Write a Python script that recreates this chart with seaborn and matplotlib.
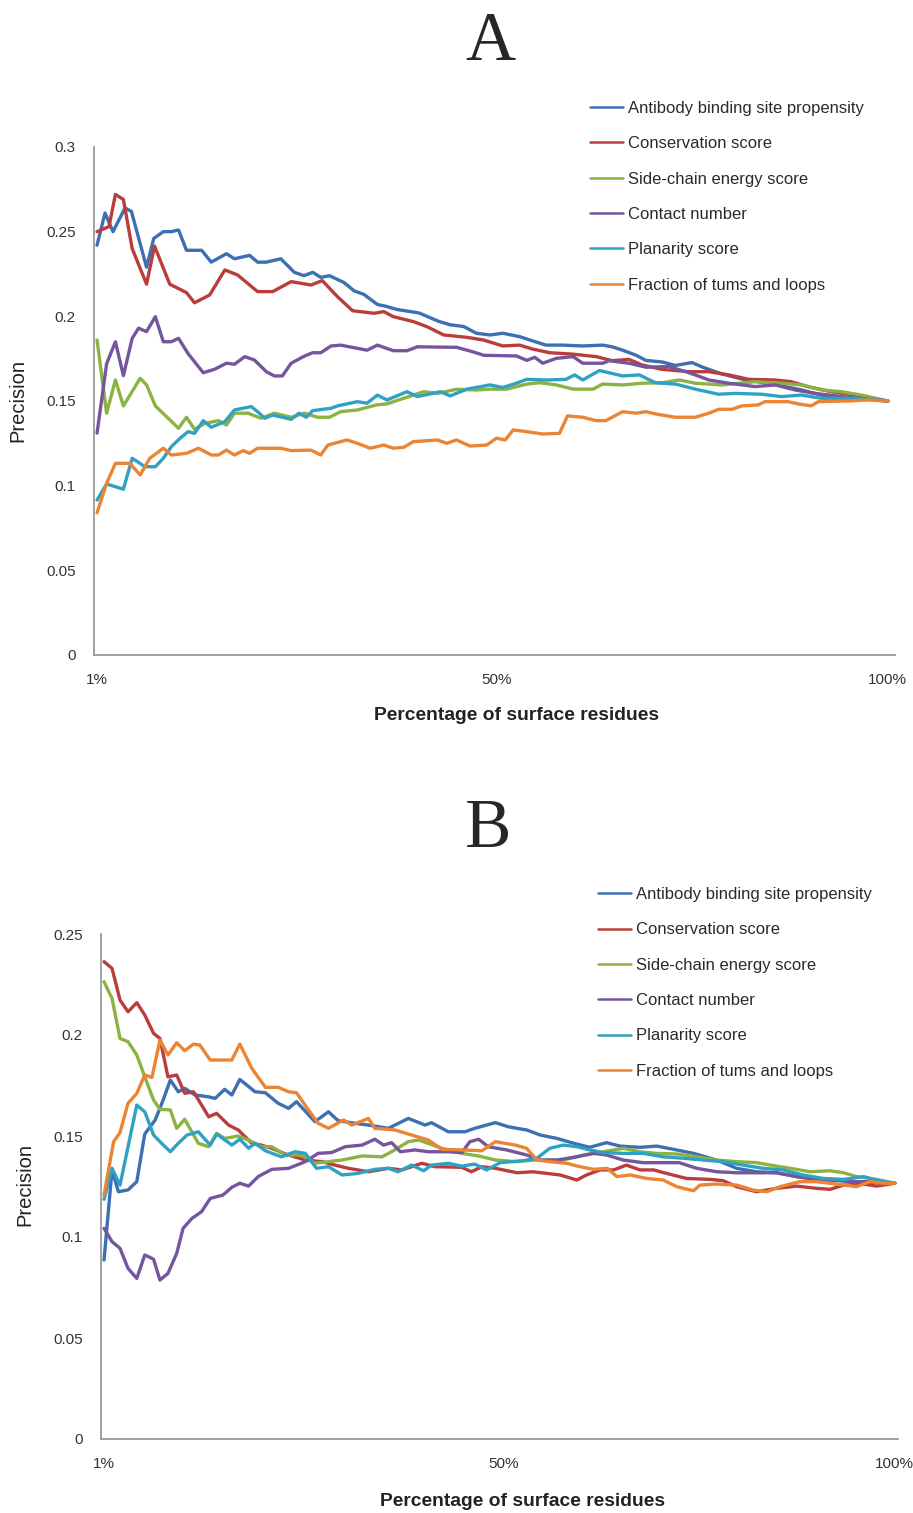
import matplotlib
matplotlib.use("Agg")
import matplotlib.pyplot as plt
import seaborn as sns
import pandas as pd

# Series names and colours (Excel 2007 style palette)
series_names = ['Antibody binding site propensity', 'Conservation score', 'Side-chain energy score',
                'Contact number', 'Planarity score', 'Fraction of tums and loops']
series_colors = ['#3D6FB3', '#BA3D3B', '#8CB244', '#74559E', '#2FA2C3', '#EC8533']

x_ticks = [1, 51, 100]
x_tick_labels = ['1%', '50%', '100%']

# ---------------- Panel A ----------------
a_x_blue = [1, 2, 3, 4.5, 5.3, 7.2, 8.1, 9.3, 10.3, 11.2, 12.2, 14.1, 15.3, 17.2, 18.2, 20.1, 21.1, 22.2, 24, 25.7,
            26.9, 28, 29, 30.1, 31.9, 33.2, 34.4, 36.1, 37.1, 38.6, 41.3, 43.8, 45.2, 46.9, 48.5, 50.2, 51.8, 53.9, 55.2, 57.2,
            59.3, 61.8, 64.3, 65.5, 66.8, 68.5, 69.7, 71.8, 73.4, 75.5, 76.8, 79.2, 81.7, 84.2, 86.7, 89.2, 91.7, 94.2, 96.7, 100]
a_y_blue = [0.242, 0.261, 0.250, 0.264, 0.262, 0.229, 0.246, 0.250, 0.250, 0.251, 0.239, 0.239, 0.232, 0.237, 0.234, 0.236, 0.232, 0.232, 0.234, 0.226,
            0.224, 0.226, 0.223, 0.224, 0.220, 0.215, 0.213, 0.207, 0.206, 0.204, 0.202, 0.197, 0.195, 0.194, 0.190, 0.189, 0.190, 0.188, 0.186, 0.183,
            0.183, 0.1825, 0.183, 0.182, 0.180, 0.177, 0.174, 0.173, 0.171, 0.1727, 0.170, 0.166, 0.163, 0.161, 0.159, 0.1565, 0.1535, 0.1516, 0.1516, 0.150]

a_x_red = [1, 2.5, 3.3, 4.3, 5.4, 7.2, 8.2, 10.1, 12.2, 13.2, 15.1, 17, 18.6, 21.1, 23, 25.3, 27.8, 29.2, 31.1, 33,
           35.7, 36.9, 38.1, 40.6, 42.3, 44.4, 47.3, 49.4, 51.8, 53.9, 55.5, 57.7, 60.5, 63.5, 65.5, 67.6, 69.2, 71.7, 75.1, 77.6,
           80.1, 82.6, 85.9, 87.9, 90, 92.9, 95.9, 100]
a_y_red = [0.250, 0.253, 0.272, 0.269, 0.240, 0.219, 0.2415, 0.219, 0.214, 0.208, 0.2126, 0.2274, 0.2244, 0.2146, 0.2146, 0.2205, 0.2185, 0.2211, 0.2116, 0.2033,
           0.2018, 0.2028, 0.1998, 0.1969, 0.1939, 0.189, 0.1876, 0.186, 0.1825, 0.183, 0.1807, 0.1785, 0.1777, 0.1762, 0.1738, 0.1746, 0.1713, 0.1687, 0.1673, 0.1673,
           0.1654, 0.1628, 0.1624, 0.1614, 0.1585, 0.1555, 0.1535, 0.150]

a_x_green = [1, 2.2, 3.3, 4.3, 6.4, 7.2, 8.3, 11.2, 12.2, 13.2, 14.5, 16.2, 17.2, 18.2, 19.9, 21.5, 23.2, 25.3, 27, 28.6,
             30.1, 31.5, 33.6, 36, 37.3, 39.4, 41.9, 43.6, 46, 48.5, 50.2, 52.3, 54.8, 56.4, 58.5, 60.6, 63.1, 64.3, 66.8, 69.3,
             71.8, 73.9, 75.9, 79.2, 83.4, 86.7, 89.2, 91.7, 94.2, 96.7, 100]
a_y_green = [0.186, 0.1428, 0.1624, 0.1471, 0.1634, 0.1595, 0.1471, 0.1339, 0.1404, 0.1333, 0.1368, 0.1384, 0.1358, 0.1428, 0.1428, 0.1398, 0.1428, 0.1404, 0.1428, 0.1404,
             0.1404, 0.1437, 0.1447, 0.1477, 0.1483, 0.1516, 0.1555, 0.1545, 0.1569, 0.1565, 0.157, 0.157, 0.160, 0.1608, 0.1595, 0.157, 0.157, 0.160, 0.1595, 0.1605,
             0.1608, 0.1624, 0.1605, 0.1595, 0.1614, 0.1605, 0.1595, 0.1565, 0.1555, 0.1535, 0.150]

a_x_purple = [1, 2.2, 3.3, 4.3, 5.4, 6.2, 7.2, 8.3, 9.3, 10.3, 11.2, 12.4, 14.3, 15.7, 17.2, 18.2, 19.5, 20.7, 22.2, 23.2,
              24.2, 25.3, 27, 28, 29, 30.3, 31.5, 33.6, 34.8, 36.1, 38.1, 39.8, 41.1, 46, 48.1, 49.4, 53.5, 54.8, 55.8, 56.8,
              58.5, 60.6, 61.8, 64.3, 65.1, 67.6, 69.7, 72.6, 74.7, 75.9, 77.6, 80.1, 83.4, 85.9, 88.4, 90.9, 94.2, 100]
a_y_purple = [0.131, 0.172, 0.185, 0.165, 0.187, 0.193, 0.191, 0.1998, 0.185, 0.185, 0.187, 0.178, 0.1667, 0.1687, 0.1723, 0.1717, 0.1762, 0.1742, 0.1673, 0.1648,
              0.1648, 0.1723, 0.1766, 0.1785, 0.1785, 0.1825, 0.183, 0.1811, 0.180, 0.183, 0.1797, 0.1797, 0.182, 0.1817, 0.179, 0.177, 0.1766, 0.174, 0.1758, 0.1723,
              0.1752, 0.1762, 0.1723, 0.1723, 0.1738, 0.1723, 0.170, 0.1703, 0.1673, 0.1654, 0.1624, 0.1605, 0.1585, 0.1595, 0.1565, 0.1545, 0.1526, 0.150]

a_x_aqua = [1, 2.2, 4.3, 5.4, 7, 8.3, 9.3, 10.3, 11.4, 12.4, 13.2, 14.3, 15.3, 17, 18.2, 20.3, 21.1, 22, 23, 25.3,
            26.3, 27.2, 28, 30.3, 31.1, 33.6, 34.8, 36.1, 37.3, 39.8, 41.1, 44, 45.2, 47.3, 50.2, 51.8, 53.5, 54.8, 57.2, 59.7,
            60.8, 61.8, 63.9, 66.8, 68.9, 70.9, 73.4, 75.9, 78.8, 80.9, 84.2, 86.7, 89.2, 91.7, 95.9, 100]
a_y_aqua = [0.0915, 0.101, 0.0979, 0.1162, 0.1112, 0.1112, 0.1162, 0.123, 0.128, 0.1319, 0.1309, 0.1384, 0.1345, 0.1378, 0.1447, 0.1467, 0.1437, 0.1398, 0.1417, 0.1392,
            0.1428, 0.1404, 0.1443, 0.1457, 0.1471, 0.1496, 0.1487, 0.1535, 0.1506, 0.1555, 0.1526, 0.1555, 0.153, 0.157, 0.1595, 0.158, 0.1605, 0.1628, 0.1624, 0.1628,
            0.1654, 0.1624, 0.168, 0.1648, 0.1654, 0.1608, 0.160, 0.157, 0.154, 0.1545, 0.154, 0.1526, 0.1535, 0.1516, 0.1516, 0.150]

a_x_orange = [1, 2.2, 3.3, 5.1, 6.4, 7.6, 9.3, 10.3, 12.2, 13.7, 15.3, 16.2, 17.2, 18.2, 19.3, 20.1, 21.1, 24, 25.3, 27.8,
              29, 29.9, 32.3, 33.6, 35.2, 36.9, 38.1, 39.4, 40.6, 43.6, 44.8, 46, 47.7, 49.8, 51, 52.1, 53.1, 54.8, 56.8, 58.9,
              59.9, 61.8, 63.5, 64.7, 66.8, 68.5, 69.7, 71, 73.4, 75.9, 77.6, 78.8, 80.5, 81.7, 83.8, 84.6, 87.5, 88.8, 90.4, 91.3,
              95, 97.5, 100]
a_y_orange = [0.084, 0.1014, 0.1132, 0.1132, 0.1063, 0.1162, 0.1221, 0.1181, 0.1191, 0.1221, 0.1181, 0.1181, 0.121, 0.1181, 0.1207, 0.1191, 0.1221, 0.1221, 0.1207, 0.121,
              0.1181, 0.124, 0.127, 0.125, 0.1221, 0.124, 0.1221, 0.1227, 0.126, 0.127, 0.125, 0.127, 0.1234, 0.124, 0.128, 0.127, 0.1329, 0.1319, 0.1305, 0.1309,
              0.1412, 0.1404, 0.1384, 0.1384, 0.1437, 0.1428, 0.1437, 0.1423, 0.1404, 0.1404, 0.1428, 0.1451, 0.1451, 0.1471, 0.1477, 0.1496, 0.1496, 0.1483, 0.1471, 0.1496,
              0.150, 0.1506, 0.150]

# ---------------- Panel B ----------------
b_x_blue = [1, 2, 2.8, 4, 5.1, 6.1, 7.4, 8.4, 9.3, 10.3, 11.1, 12.4, 14.1, 14.9, 16.1, 17, 18, 19.9, 21.2, 22.8,
            24.1, 25.1, 27.4, 29.1, 30.3, 32.4, 34.1, 36.6, 39.1, 41.2, 42, 44.1, 46.2, 47.4, 50, 51.6, 52.7, 53.9, 55.6, 57.7,
            59.8, 61.8, 63.9, 65.6, 68.1, 70.2, 72.3, 74.8, 77.7, 80.2, 82.7, 85.2, 87.7, 90.2, 95.2, 100]
b_y_blue = [0.0886, 0.1332, 0.1224, 0.1233, 0.1274, 0.151, 0.1579, 0.1678, 0.1777, 0.1719, 0.1736, 0.1703, 0.1694, 0.1686, 0.1731, 0.1703, 0.178, 0.1719, 0.1714, 0.1662,
            0.1637, 0.167, 0.1571, 0.162, 0.1576, 0.1563, 0.1554, 0.1538, 0.1587, 0.1554, 0.1566, 0.1521, 0.1521, 0.1538, 0.1566, 0.1546, 0.1538, 0.153, 0.1505, 0.1488,
            0.1464, 0.1444, 0.1467, 0.145, 0.1444, 0.145, 0.1434, 0.1414, 0.1381, 0.134, 0.1323, 0.1318, 0.1299, 0.1285, 0.1274, 0.1266]

b_x_red = [1, 2, 3, 4, 5.1, 6.1, 7.2, 8, 9, 10.1, 11.1, 12.2, 14.1, 15.1, 16.6, 17.8, 19.5, 20.7, 22, 23.7,
           26.2, 28.3, 29.9, 31.6, 34.1, 36.6, 38.3, 40.8, 42.4, 45.8, 47, 48.3, 50, 52.7, 54.7, 56.4, 58.1, 60.2, 61.4, 63.1,
           64.8, 66.4, 68.1, 69.8, 71.4, 73.9, 76.9, 78.5, 80.2, 82.7, 85.2, 87.7, 90.2, 91.9, 93.6, 96.1, 97.7, 100]
b_y_red = [0.2363, 0.233, 0.2173, 0.2115, 0.216, 0.2099, 0.2008, 0.1983, 0.1793, 0.1802, 0.1711, 0.1719, 0.1595, 0.1612, 0.1554, 0.153, 0.1464, 0.1455, 0.1439, 0.1411,
           0.1381, 0.1373, 0.1356, 0.134, 0.1323, 0.134, 0.1332, 0.1365, 0.1348, 0.1345, 0.1323, 0.1348, 0.134, 0.1318, 0.1323, 0.1315, 0.1307, 0.1282, 0.1307, 0.1332,
           0.1332, 0.1356, 0.1332, 0.1332, 0.1315, 0.129, 0.1285, 0.1279, 0.1249, 0.1224, 0.1241, 0.1252, 0.1241, 0.1236, 0.1257, 0.1262, 0.1252, 0.1266]

b_x_green = [1, 2, 3, 4, 5.1, 6.1, 7.2, 8, 9.3, 10.1, 11.1, 12.8, 14.1, 15.1, 16.1, 17.8, 19.1, 20.7, 22, 23.7,
             25.7, 27.4, 29.1, 30.8, 33.3, 35.8, 37, 39.1, 40.4, 43.3, 45.8, 47.9, 50, 52.5, 55, 58.5, 61, 63.5, 66, 68.1,
             70.2, 72.7, 75.2, 77.7, 80.2, 82.7, 84.4, 86.9, 89.4, 91.9, 93.6, 95.2, 97.7, 100]
b_y_green = [0.2264, 0.2181, 0.1983, 0.1967, 0.1901, 0.1793, 0.1678, 0.1632, 0.1629, 0.1538, 0.1583, 0.1464, 0.1447, 0.1513, 0.1488, 0.150, 0.148, 0.1447, 0.1447, 0.1406,
             0.1406, 0.1365, 0.1373, 0.1381, 0.1401, 0.1397, 0.1422, 0.1472, 0.148, 0.1439, 0.1414, 0.1401, 0.1381, 0.1373, 0.1381, 0.1381, 0.1406, 0.1422, 0.1439, 0.1422,
             0.1414, 0.1411, 0.1397, 0.1381, 0.1373, 0.1368, 0.1356, 0.134, 0.1323, 0.1328, 0.1318, 0.1299, 0.1285, 0.1266]

b_x_purple = [1, 2, 3, 4, 5.1, 6.1, 7.2, 8, 9, 10.1, 10.9, 12, 13.2, 14.3, 15.9, 17, 18, 19.1, 20.3, 22,
              24.1, 26.2, 27.8, 29.5, 31.2, 33.3, 34.9, 36, 37, 38.1, 39.9, 41.6, 44.1, 45.8, 46.8, 47.9, 49.1, 51.4, 53.9, 55.6,
              57.7, 60.2, 62.3, 63.9, 66, 68.5, 71, 73, 75.2, 77.7, 80.2, 82.7, 85.2, 87.7, 90.2, 92.7, 94.4, 96.5, 100]
b_y_purple = [0.1043, 0.0977, 0.0944, 0.0845, 0.0795, 0.0911, 0.089, 0.0787, 0.082, 0.0919, 0.1043, 0.1092, 0.1125, 0.1191, 0.1208, 0.1246, 0.1266, 0.1252, 0.1299, 0.1335,
              0.134, 0.1373, 0.1414, 0.1418, 0.1447, 0.1455, 0.1484, 0.1455, 0.1467, 0.1422, 0.1431, 0.1422, 0.1422, 0.1418, 0.1472, 0.1484, 0.1447, 0.1431, 0.1406, 0.1381,
              0.1381, 0.1397, 0.1414, 0.1406, 0.1381, 0.1368, 0.1368, 0.1368, 0.134, 0.1323, 0.1318, 0.1318, 0.1318, 0.1299, 0.1285, 0.1282, 0.1274, 0.1274, 0.1266]

b_x_aqua = [1, 2, 3, 5.1, 6.1, 7.2, 8.2, 9.3, 10.3, 11.4, 12.8, 14.3, 15.1, 17, 18, 19.1, 19.9, 21.2, 23.2, 24.9,
            26.2, 27.6, 29.1, 30.8, 32.8, 34.9, 36.6, 37.8, 39.5, 41, 42, 44.1, 45.8, 47.4, 48.9, 50.6, 53.5, 55.2, 56.8, 58.5,
            60.2, 61.8, 63.5, 66, 68.5, 71, 73.5, 76, 78.5, 81, 83.5, 86, 88.5, 91, 93.6, 96.1, 97.7, 100]
b_y_aqua = [0.1187, 0.134, 0.1257, 0.1653, 0.162, 0.1505, 0.1464, 0.1422, 0.1464, 0.1505, 0.1521, 0.1455, 0.151, 0.1455, 0.1484, 0.1439, 0.1464, 0.1427, 0.1397, 0.1422,
            0.1414, 0.134, 0.1348, 0.1307, 0.1315, 0.1335, 0.134, 0.1323, 0.1356, 0.1328, 0.1356, 0.1365, 0.1351, 0.1361, 0.1332, 0.1368, 0.1378, 0.139, 0.1439, 0.1455,
            0.1447, 0.1431, 0.1418, 0.1414, 0.1414, 0.1397, 0.139, 0.1381, 0.1373, 0.1356, 0.134, 0.1332, 0.1307, 0.129, 0.1285, 0.1299, 0.1282, 0.1266]

b_x_orange = [1, 2.2, 3, 4, 5.1, 6.1, 7, 8, 9, 10.1, 11.1, 12.2, 13, 14.3, 17, 18, 19.5, 21.2, 22.8, 24.1,
              25.1, 26.6, 27.8, 29.1, 31, 32, 34.1, 34.9, 37.4, 39.5, 41.6, 43.3, 45.8, 48.3, 50, 52.5, 53.9, 55.2, 56.8, 58.9,
              60.6, 62.3, 64, 65.2, 66.9, 68.9, 71, 72.7, 74.8, 75.6, 77.7, 80.2, 82.3, 84, 85.6, 88.1, 90.2, 92.7, 95.2, 96.9,
              98.6, 100]
b_y_orange = [0.1208, 0.1472, 0.1517, 0.1662, 0.1711, 0.1802, 0.179, 0.1975, 0.1901, 0.1962, 0.1922, 0.1955, 0.195, 0.1876, 0.1876, 0.1955, 0.1835, 0.1741, 0.1741, 0.1719,
              0.1714, 0.1629, 0.1563, 0.1538, 0.1579, 0.1554, 0.1587, 0.1538, 0.153, 0.1505, 0.148, 0.1434, 0.1431, 0.1427, 0.1472, 0.1455, 0.1439, 0.1381, 0.1373, 0.1365,
              0.1348, 0.1335, 0.134, 0.1299, 0.1307, 0.129, 0.1282, 0.1249, 0.1229, 0.1257, 0.1262, 0.1257, 0.1232, 0.1224, 0.1249, 0.1274, 0.1274, 0.1262, 0.1249, 0.1274,
              0.1266, 0.1266]


def make_frame(xs, ys):
  frames = []
  for name, x, y in zip(series_names, xs, ys):
    frames.append(pd.DataFrame({'pct': x, 'precision': y, 'series': name}))
  return pd.concat(frames, ignore_index=True)


def style_axes(ax, y_max, y_step, x_right):
  ax.set_xlim(0.62, x_right)
  ax.set_ylim(0, y_max)
  n = int(round(y_max / y_step))
  yt = [i * y_step for i in range(n + 1)]
  ax.set_yticks(yt)
  ax.set_yticklabels(['0' if v == 0 else ('%g' % round(v, 2)) for v in yt])
  ax.set_xticks(x_ticks)
  ax.set_xticklabels(x_tick_labels)
  ax.tick_params(axis='y', length=0, pad=13, labelsize=11, labelcolor='#333333')
  ax.tick_params(axis='x', direction='in', length=5, width=1, color='#999999', pad=13, labelsize=11, labelcolor='#333333')
  for side in ['top', 'right']:
    ax.spines[side].set_visible(False)
  for side in ['left', 'bottom']:
    ax.spines[side].set_color('#9a9a9a')
    ax.spines[side].set_linewidth(1.3)
  ax.set_xlabel('')
  ax.set_ylabel('')


def style_legend(leg):
  for h in leg.get_lines():
    h.set_linewidth(1.8)
  for t in leg.get_texts():
    t.set_color('#2a2a2a')


sns.set_theme(style="white")
plt.rcParams['font.family'] = ['Liberation Sans', 'DejaVu Sans']

fig = plt.figure(figsize=(9.13, 15.13), dpi=100)

# Panel A
dataA = make_frame([a_x_blue, a_x_red, a_x_green, a_x_purple, a_x_aqua, a_x_orange],
                   [a_y_blue, a_y_red, a_y_green, a_y_purple, a_y_aqua, a_y_orange])
axA = fig.add_axes([94 / 913, 1 - 655 / 1513, (895 - 94) / 913, (655 - 147) / 1513])
sns.lineplot(data=dataA, x='pct', y='precision', hue='series', hue_order=series_names,
             palette=series_colors, estimator=None, sort=False, linewidth=2.4, ax=axA)
style_axes(axA, 0.3, 0.05, 100.9)
legA = axA.legend(loc='upper left', bbox_to_anchor=(590 / 913, 1 - 101 / 1513), bbox_transform=fig.transFigure,
                  frameon=False, fontsize=12, handlelength=2.0, handletextpad=0.3, labelspacing=1.22,
                  borderpad=0, borderaxespad=0)
style_legend(legA)

fig.text(490 / 913, 1 - 43 / 1513, 'A', ha='center', va='center', fontsize=50, family='Liberation Serif')
fig.text(18 / 913, 1 - 400 / 1513, 'Precision', rotation=90, ha='center', va='center', fontsize=14.5, color='#222222')
fig.text(516 / 913, 1 - 716 / 1513, 'Percentage of surface residues', ha='center', va='center', fontsize=13.9,
         fontweight='bold', color='#222222')

# Panel B
dataB = make_frame([b_x_blue, b_x_red, b_x_green, b_x_purple, b_x_aqua, b_x_orange],
                   [b_y_blue, b_y_red, b_y_green, b_y_purple, b_y_aqua, b_y_orange])
axB = fig.add_axes([101 / 913, 1 - 1439 / 1513, (898 - 101) / 913, (1439 - 934) / 1513])
sns.lineplot(data=dataB, x='pct', y='precision', hue='series', hue_order=series_names,
             palette=series_colors, estimator=None, sort=False, linewidth=2.4, ax=axB)
style_axes(axB, 0.25, 0.05, 100.4)
legB = axB.legend(loc='upper left', bbox_to_anchor=(598 / 913, 1 - 887 / 1513), bbox_transform=fig.transFigure,
                  frameon=False, fontsize=12, handlelength=2.0, handletextpad=0.3, labelspacing=1.22,
                  borderpad=0, borderaxespad=0)
style_legend(legB)

fig.text(488 / 913, 1 - 830 / 1513, 'B', ha='center', va='center', fontsize=50, family='Liberation Serif')
fig.text(25 / 913, 1 - 1185 / 1513, 'Precision', rotation=90, ha='center', va='center', fontsize=14.5, color='#222222')
fig.text(522 / 913, 1 - 1502 / 1513, 'Percentage of surface residues', ha='center', va='center', fontsize=13.9,
         fontweight='bold', color='#222222')

plt.savefig('out.png', dpi=100)
